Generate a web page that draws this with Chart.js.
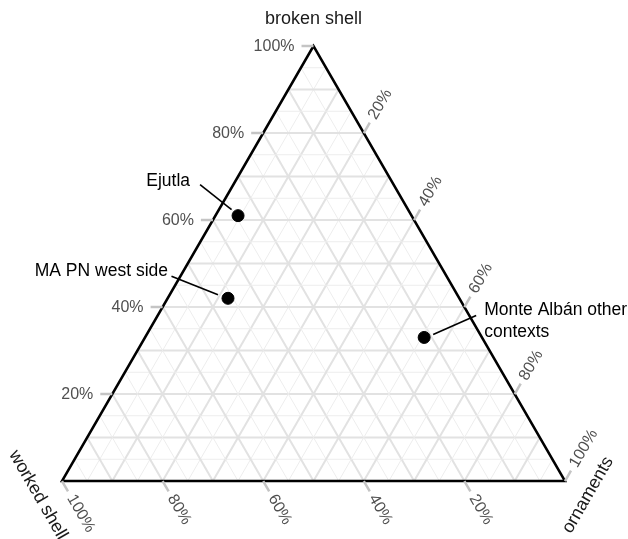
<!DOCTYPE html>
<html>
<head>
    <title>Shell ternary plot</title>
    <script src="https://cdn.jsdelivr.net/npm/chart.js@4.4.1/dist/chart.umd.min.js"></script>
    <style>
        body {
            margin: 0;
            background: #ffffff;
        }
        .wrap {
            width: 628px;
            height: 539px;
            position: relative;
        }
    </style>
</head>
<body>
    <div class="wrap">
        <canvas id="ternChart"></canvas>
    </div>

    <script>
        // Sites and their composition (percent)
        const sites = ['Ejutla', 'MA PN west side', 'Monte Albán other contexts'];
        const brokenShell = [61, 42, 33];
        const workedShell = [34.5, 46, 11.5];
        const ornaments = [4.5, 12, 55.5];

        const axisTitles = ['broken shell', 'worked shell', 'ornaments'];
        const tickValues = [20, 40, 60, 80, 100];
        const tickLabels = ['20%', '40%', '60%', '80%', '100%'];

        const H = Math.sqrt(3) / 2;
        const FONT = '"Liberation Sans", Arial, sans-serif';

        // ternary -> cartesian (worked shell at left, ornaments at right, broken shell at top)
        function tern(b, w, o) {
            const s = b + w + o;
            return { x: o / s + (b / s) / 2, y: (b / s) * H };
        }

        const points = sites.map((s, i) => tern(brokenShell[i], workedShell[i], ornaments[i]));

        function px(chart, p) {
            return {
                x: chart.scales.x.getPixelForValue(p.x),
                y: chart.scales.y.getPixelForValue(p.y)
            };
        }

        function line(ctx, a, b) {
            ctx.beginPath();
            ctx.moveTo(a.x, a.y);
            ctx.lineTo(b.x, b.y);
            ctx.stroke();
        }

        const ternaryPlugin = {
            id: 'ternary',
            beforeDatasetsDraw(chart) {
                const ctx = chart.ctx;
                ctx.save();

                // grid lines every 5%, major every 10%
                for (let v = 5; v < 100; v += 5) {
                    const major = v % 10 === 0;
                    ctx.strokeStyle = major ? '#e2e2e2' : '#ededed';
                    ctx.lineWidth = major ? 2 : 1;
                    line(ctx, px(chart, tern(v, 100 - v, 0)), px(chart, tern(v, 0, 100 - v)));
                    line(ctx, px(chart, tern(100 - v, v, 0)), px(chart, tern(0, v, 100 - v)));
                    line(ctx, px(chart, tern(100 - v, 0, v)), px(chart, tern(0, 100 - v, v)));
                }

                // triangle outline
                const top = px(chart, tern(100, 0, 0));
                const left = px(chart, tern(0, 100, 0));
                const right = px(chart, tern(0, 0, 100));
                ctx.strokeStyle = '#000000';
                ctx.lineWidth = 2.5;
                ctx.lineJoin = 'miter';
                ctx.beginPath();
                ctx.moveTo(top.x, top.y);
                ctx.lineTo(left.x, left.y);
                ctx.lineTo(right.x, right.y);
                ctx.closePath();
                ctx.stroke();

                // ticks and tick labels
                const tickLen = 12;
                ctx.font = '16px ' + FONT;
                ctx.fillStyle = '#505050';
                tickValues.forEach((v, i) => {
                    ctx.strokeStyle = '#c4c4c4';
                    ctx.lineWidth = 2.5;

                    // broken shell, left side
                    let p = px(chart, tern(v, 100 - v, 0));
                    line(ctx, p, { x: p.x - tickLen, y: p.y });
                    ctx.textAlign = 'right';
                    ctx.textBaseline = 'middle';
                    ctx.fillText(tickLabels[i], p.x - tickLen - 7, p.y + 1);

                    // worked shell, bottom side
                    p = px(chart, tern(0, v, 100 - v));
                    let dx = 0.5, dy = H;
                    line(ctx, p, { x: p.x + dx * tickLen, y: p.y + dy * tickLen });
                    ctx.save();
                    ctx.translate(p.x + dx * (tickLen + 5), p.y + dy * (tickLen + 5));
                    ctx.rotate(Math.PI / 3);
                    ctx.textAlign = 'left';
                    ctx.fillText(tickLabels[i], 0, 0);
                    ctx.restore();

                    // ornaments, right side
                    p = px(chart, tern(100 - v, 0, v));
                    dx = 0.5; dy = -H;
                    line(ctx, p, { x: p.x + dx * tickLen, y: p.y + dy * tickLen });
                    ctx.save();
                    ctx.translate(p.x + dx * (tickLen + 5), p.y + dy * (tickLen + 5));
                    ctx.rotate(-Math.PI / 3);
                    ctx.textAlign = 'left';
                    ctx.fillText(tickLabels[i], 0, 0);
                    ctx.restore();
                });

                // axis titles
                ctx.font = '18px ' + FONT;
                ctx.fillStyle = '#1a1a1a';
                ctx.textAlign = 'center';
                ctx.textBaseline = 'middle';
                ctx.fillText(axisTitles[0], top.x, top.y - 27);

                ctx.save();
                ctx.translate(left.x - 24, left.y + 14);
                ctx.rotate(Math.PI / 3);
                ctx.fillText(axisTitles[1], 0, 0);
                ctx.restore();

                ctx.save();
                ctx.translate(right.x + 23, right.y + 14);
                ctx.rotate(-Math.PI / 3);
                ctx.fillText(axisTitles[2], 0, 0);
                ctx.restore();

                ctx.restore();
            },
            afterDatasetsDraw(chart) {
                const ctx = chart.ctx;
                const meta = chart.getDatasetMeta(0);
                ctx.save();
                ctx.font = '17.5px ' + FONT;
                ctx.fillStyle = '#000000';
                ctx.strokeStyle = '#000000';
                ctx.lineWidth = 1.6;
                ctx.textBaseline = 'middle';

                // Ejutla
                let pt = meta.data[0];
                line(ctx, { x: pt.x - 6.5, y: pt.y - 6 }, { x: pt.x - 38, y: pt.y - 31 });
                ctx.textAlign = 'right';
                ctx.fillText(sites[0], pt.x - 48, pt.y - 34);

                // MA PN west side
                pt = meta.data[1];
                line(ctx, { x: pt.x - 10, y: pt.y - 3.5 }, { x: pt.x - 56.5, y: pt.y - 22 });
                ctx.fillText(sites[1], pt.x - 60, pt.y - 27);

                // Monte Albán other contexts
                pt = meta.data[2];
                line(ctx, { x: pt.x + 9, y: pt.y - 3 }, { x: pt.x + 52, y: pt.y - 22 });
                ctx.textAlign = 'left';
                const words = sites[2].split(' ');
                ctx.fillText(words.slice(0, 3).join(' '), pt.x + 60, pt.y - 27);
                ctx.fillText(words.slice(3).join(' '), pt.x + 60, pt.y - 5);

                ctx.restore();
            }
        };

        new Chart(document.getElementById('ternChart'), {
            type: 'scatter',
            data: {
                labels: sites,
                datasets: [{
                    data: points,
                    backgroundColor: '#000000',
                    borderColor: '#000000',
                    pointRadius: 6,
                    pointHoverRadius: 6,
                    clip: false
                }]
            },
            options: {
                responsive: true,
                maintainAspectRatio: false,
                animation: false,
                events: [],
                layout: {
                    padding: { left: 62, right: 63, top: 46, bottom: 58 }
                },
                plugins: {
                    legend: { display: false },
                    tooltip: { enabled: false }
                },
                scales: {
                    x: { type: 'linear', min: 0, max: 1, display: false },
                    y: { type: 'linear', min: 0, max: H, display: false }
                }
            },
            plugins: [ternaryPlugin]
        });
    </script>
</body>
</html>
